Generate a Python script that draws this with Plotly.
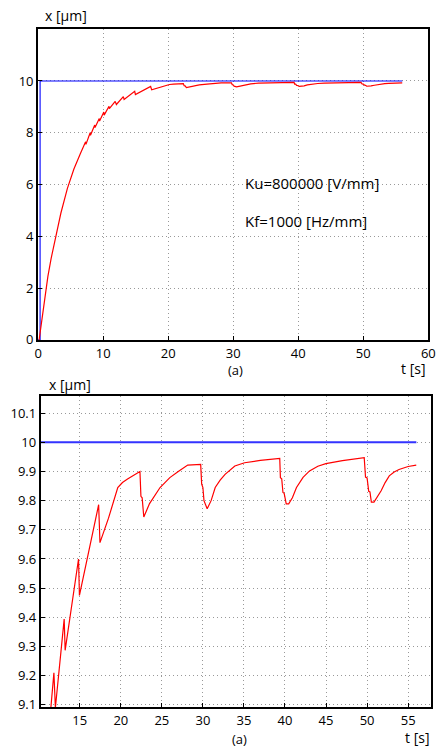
import plotly.graph_objects as go

# ---- data ----
t_ref = [0.0, 0.3, 0.3, 56.0]
x_ref = [0.0, 0.0, 10.0, 10.0]

t_resp = [0.15, 0.5, 1.0, 1.5, 2.0, 2.65, 3.5, 4.5, 5.5, 6.5,
          7.3, 7.35, 8.0, 8.05, 8.7, 8.75, 9.4, 9.45, 10.1, 10.15,
          10.9, 10.95, 11.51, 11.85, 12.03, 13.10, 13.22, 14.76, 14.85, 14.96,
          17.30, 17.46, 18.5, 19.63, 20.2, 20.82, 21.6, 22.33, 22.45, 22.6,
          22.8, 23.5, 24.78, 25.97, 27.0, 28.15, 29.73, 29.85, 30.0, 30.13,
          30.52, 31.0, 31.5, 32.1, 32.7, 33.89, 35.08, 37.0, 39.36, 39.44,
          39.6, 39.75, 39.9, 40.15, 40.45, 40.9, 41.4, 42.2, 42.99, 44.0,
          44.98, 47.0, 49.65, 49.81, 50.0, 50.2, 50.35, 50.52, 50.84, 51.2,
          51.71, 52.2, 52.7, 53.3, 53.89, 55.0, 55.99]
x_resp = [0.0, 0.65, 1.65, 2.45, 3.15, 3.97, 4.9, 5.85, 6.6, 7.2,
          7.65, 7.55, 8.0, 7.9, 8.3, 8.2, 8.55, 8.45, 8.8, 8.68,
          9.02, 8.93, 9.1, 9.21, 9.09, 9.394, 9.287, 9.60, 9.60, 9.475,
          9.786, 9.656, 9.74, 9.845, 9.862, 9.874, 9.888, 9.90, 9.815, 9.81,
          9.744, 9.79, 9.845, 9.879, 9.90, 9.922, 9.924, 9.857, 9.845, 9.80,
          9.772, 9.80, 9.845, 9.87, 9.89, 9.919, 9.930, 9.938, 9.945, 9.879,
          9.875, 9.828, 9.825, 9.789, 9.789, 9.81, 9.845, 9.88, 9.902, 9.918,
          9.927, 9.937, 9.947, 9.881, 9.878, 9.832, 9.83, 9.795, 9.795, 9.81,
          9.834, 9.862, 9.885, 9.898, 9.907, 9.917, 9.922]

top_xticks = [0, 10, 20, 30, 40, 50, 60]
top_yticks = [0, 2, 4, 6, 8, 10]
bot_xticks = [15, 20, 25, 30, 35, 40, 45, 50, 55]
bot_yticks = [9.1, 9.2, 9.3, 9.4, 9.5, 9.6, 9.7, 9.8, 9.9, 10.0, 10.1]
bot_ylabels = ["9.1", "9.2", "9.3", "9.4", "9.5", "9.6", "9.7", "9.8", "9.9", "10", "10.1"]

FONT = "Open Sans"
W, H = 448, 756

fig = go.Figure()
fig.add_trace(go.Scatter(x=t_ref, y=x_ref, mode="lines", line=dict(color="#0000ff", width=1.1),
                         xaxis="x", yaxis="y", showlegend=False))
fig.add_trace(go.Scatter(x=t_resp, y=x_resp, mode="lines", line=dict(color="#ff0000", width=1.2),
                         xaxis="x", yaxis="y", showlegend=False))
fig.add_trace(go.Scatter(x=t_ref, y=x_ref, mode="lines", line=dict(color="#3333ff", width=2),
                         xaxis="x2", yaxis="y2", showlegend=False))
fig.add_trace(go.Scatter(x=t_resp, y=x_resp, mode="lines", line=dict(color="#ff0000", width=1.2),
                         xaxis="x2", yaxis="y2", showlegend=False))

ax_common = dict(showline=True, linecolor="black", linewidth=2, mirror=True,
                 ticks="inside", ticklen=4, tickcolor="black",
                 showgrid=True, gridcolor="#999999", griddash="1px,3px", gridwidth=1,
                 zeroline=False, tickfont=dict(family=FONT, size=13, color="black"))

def px(x):
    return x / W

def py(y):
    return 1 - y / H

fig.update_layout(
    width=W, height=H, margin=dict(l=0, r=0, t=0, b=0),
    paper_bgcolor="white", plot_bgcolor="white",
    xaxis=dict(domain=[px(35), px(435)], range=[0, 60], tickvals=top_xticks, anchor="y", **ax_common),
    yaxis=dict(domain=[py(344), py(29.5)], range=[0, 12], tickvals=top_yticks, anchor="x", **ax_common),
    xaxis2=dict(domain=[px(37.7), px(437.7)], range=[10.25, 57.78], tickvals=bot_xticks, anchor="y2", **ax_common),
    yaxis2=dict(domain=[py(715.7), py(400.7)], range=[9.092, 10.159], tickvals=bot_yticks,
                ticktext=bot_ylabels, anchor="x2", **ax_common),
)

def txt(x, y, s, xanchor="left", size=13):
    fig.add_annotation(x=px(x), y=py(y), xref="paper", yref="paper", text=s, showarrow=False,
                       xanchor=xanchor, yanchor="middle",
                       font=dict(family=FONT, size=size, color="black"))

txt(40, 16, "x [µm]", size=14)
txt(434, 373, "t [s]", xanchor="right", size=14)
txt(237, 374, "(a)", xanchor="center")
txt(245, 185, "Ku=800000 [V/mm]", size=15)
txt(245, 224, "Kf=1000 [Hz/mm]", size=15)

txt(44, 389, "x [µm]", size=14)
txt(438, 746, "t [s]", xanchor="right", size=14)
txt(241, 748, "(a)", xanchor="center")

fig.write_html("out.html", config={"displayModeBar": False},
               post_script="document.body.style.margin='0';")
